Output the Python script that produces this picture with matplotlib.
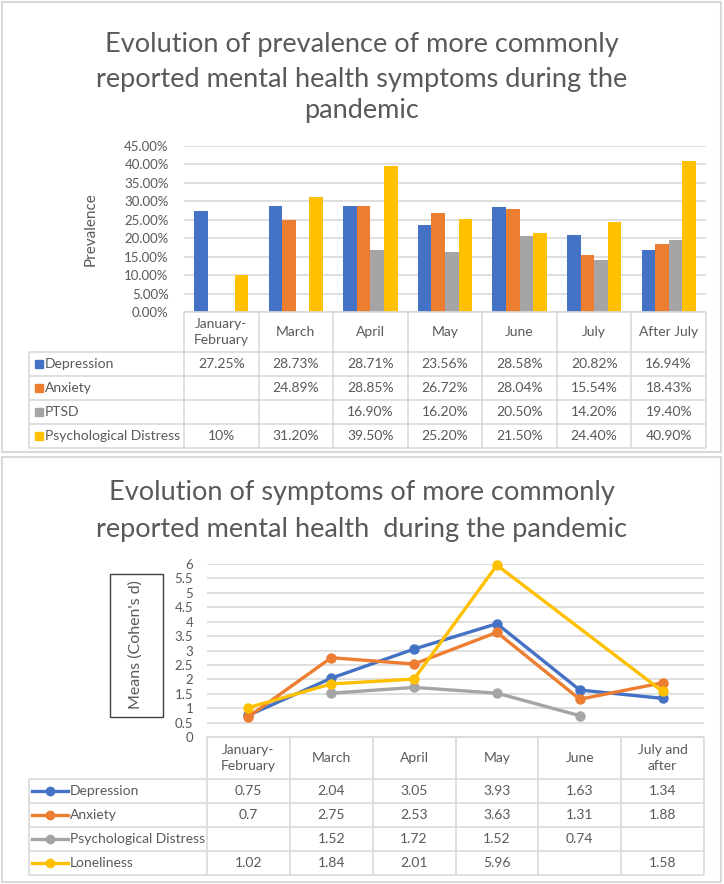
import numpy as np
import matplotlib
matplotlib.use("Agg")
import matplotlib.pyplot as plt
from matplotlib.patches import Rectangle

plt.rcParams['font.family'] = ['Lato', 'DejaVu Sans']

# ---- data: prevalence (bar chart) ----
bar_months = ["January-\nFebruary", "March", "April", "May", "June", "July", "After July"]
bar_series = ["Depression", "Anxiety", "PTSD", "Psychological Distress"]
depression_pct = [27.25, 28.73, 28.71, 23.56, 28.58, 20.82, 16.94]
anxiety_pct = [np.nan, 24.89, 28.85, 26.72, 28.04, 15.54, 18.43]
ptsd_pct = [np.nan, np.nan, 16.90, 16.20, 20.50, 14.20, 19.40]
distress_pct = [10, 31.20, 39.50, 25.20, 21.50, 24.40, 40.90]

# ---- data: means / Cohen's d (line chart) ----
line_months = ["January-\nFebruary", "March", "April", "May", "June", "July and\nafter"]
line_series = ["Depression", "Anxiety", "Psychological Distress", "Loneliness"]
depression_d = [0.75, 2.04, 3.05, 3.93, 1.63, 1.34]
anxiety_d = [0.7, 2.75, 2.53, 3.63, 1.31, 1.88]
distress_d = [np.nan, 1.52, 1.72, 1.52, 0.74, np.nan]
loneliness_d = [1.02, 1.84, 2.01, 5.96, np.nan, 1.58]

colors = ["#4472C4", "#ED7D31", "#A5A5A5", "#FFC000"]
text_c = "#595959"
grid_c = "#D9D9D9"

W, H = 724, 884
fig = plt.figure(figsize=(W / 100, H / 100), dpi=100)


def px_axes(x0, y0, x1, y1, **kw):
    return fig.add_axes([x0 / W, 1 - y1 / H, (x1 - x0) / W, (y1 - y0) / H], **kw)


def fig_text(x, y, s, **kw):
    return fig.text(x / W, 1 - y / H, s, **kw)


def draw_table(tax, months, names, rows, fmt, key, label_px, unit_px, header_h):
    n = len(months)
    nr = len(names)
    left = -0.5 - label_px / unit_px
    tax.set_ylim(nr, -header_h)
    tax.axis("off")
    kw = dict(color=grid_c, lw=1.2, clip_on=False, solid_capstyle="butt")
    tax.plot([-0.5, n - 0.5], [-header_h, -header_h], **kw)
    for i in range(nr + 1):
        tax.plot([left, n - 0.5], [i, i], **kw)
    for j in range(n + 1):
        tax.plot([j - 0.5, j - 0.5], [-header_h, nr], **kw)
    tax.plot([left, left], [0, nr], **kw)
    for j, m in enumerate(months):
        tax.text(j, -header_h / 2, m, ha="center", va="center", fontsize=10,
                 color=text_c, linespacing=1.35)
    for i, (name, vals, c) in enumerate(zip(names, rows, colors)):
        y = i + 0.5
        if key == "square":
            tax.plot(left + 9.5 / unit_px, y, marker="s", ms=5.2, color=c, clip_on=False)
            tx = left + 16 / unit_px
        else:
            tax.plot([left + 3 / unit_px, left + 39 / unit_px], [y, y], color=c,
                     lw=2.4, clip_on=False)
            tax.plot(left + 21 / unit_px, y, marker="o", ms=6, color=c, clip_on=False)
            tx = left + 41 / unit_px
        tax.text(tx, y, name, ha="left", va="center", fontsize=10, color=text_c)
        for j, v in enumerate(vals):
            if not np.isnan(v):
                tax.text(j, y, fmt(v), ha="center", va="center", fontsize=10, color=text_c)


# panel borders
border = px_axes(0, 0, W, H)
border.set_xlim(0, W)
border.set_ylim(H, 0)
border.axis("off")
border.add_patch(Rectangle((2, 2), 719, 450, fill=False, ec=grid_c, lw=1.5))
border.add_patch(Rectangle((2, 457), 719, 425, fill=False, ec=grid_c, lw=1.5))

# ---------------- panel 1: bar chart ----------------
title1 = ["Evolution of prevalence of more commonly",
          "reported mental health symptoms during the",
          "pandemic"]
for line, yb in zip(title1, [52, 87, 118]):
    fig_text(362, yb, line, ha="center", va="baseline", fontsize=19.5,
             color=text_c)

ax1 = px_axes(184, 146, 706, 312)
x = np.arange(len(bar_months))
bw = 1 / 5.5
for k, (vals, c) in enumerate(zip([depression_pct, anxiety_pct, ptsd_pct, distress_pct], colors)):
    ax1.bar(x + (k - 1.5) * bw, vals, bw, color=c, zorder=3)
ax1.set_xlim(-0.5, len(bar_months) - 0.5)
ax1.set_ylim(0, 45)
ax1.set_yticks(np.arange(0, 46, 5))
ax1.set_yticklabels([f"{v:.2f}%" for v in np.arange(0, 46, 5)])
ax1.set_xticks([])
ax1.yaxis.grid(True, color=grid_c, lw=1.2)
for s in ax1.spines.values():
    s.set_visible(False)
ax1.tick_params(axis="y", length=0, pad=11, labelsize=9.5, labelcolor=text_c)
fig_text(91, 229, "Prevalence", rotation=90, ha="center", va="center",
         fontsize=11, color=text_c)

tax1 = px_axes(184, 312, 706, 448, sharex=ax1)
draw_table(tax1, bar_months, bar_series,
           [depression_pct, anxiety_pct, ptsd_pct, distress_pct],
           lambda v: f"{v:.0f}%" if float(v).is_integer() else f"{v:.2f}%",
           "square", 155, 522 / 7, 40 / 24)

# ---------------- panel 2: line chart ----------------
title2 = ["Evolution of symptoms of more commonly",
          "reported mental health  during the pandemic"]
for line, yb in zip(title2, [500, 537]):
    fig_text(362, yb, line, ha="center", va="baseline", fontsize=19.5,
             color=text_c)

ax2 = px_axes(207, 564, 704, 737)
x2 = np.arange(len(line_months))
for vals, c in zip([depression_d, anxiety_d, distress_d, loneliness_d], colors):
    v = np.array(vals, dtype=float)
    ok = ~np.isnan(v)
    ax2.plot(x2[ok], v[ok], color=c, lw=2.4, marker="o", ms=6.5, zorder=3,
             clip_on=False)
ax2.set_xlim(-0.5, len(line_months) - 0.5)
ax2.set_ylim(0, 6)
ax2.set_yticks(np.arange(0, 6.01, 0.5))
ax2.set_yticklabels([f"{v:g}" for v in np.arange(0, 6.01, 0.5)])
ax2.set_xticks([])
ax2.yaxis.grid(True, color=grid_c, lw=1.2)
for s in ax2.spines.values():
    s.set_visible(False)
ax2.tick_params(axis="y", length=0, pad=10, labelsize=9.5, labelcolor=text_c)

border.add_patch(Rectangle((110, 574), 53, 143, fill=False, ec="#404040", lw=1))
fig_text(136, 645, "Means (Cohen's d)", rotation=90, ha="center", va="center",
         fontsize=11.5, color=text_c)

tax2 = px_axes(207, 737, 704, 875, sharex=ax2)
draw_table(tax2, line_months, line_series,
           [depression_d, anxiety_d, distress_d, loneliness_d],
           lambda v: f"{v:g}", "line", 178, 497 / 6, 42 / 24)

fig.savefig("out.png", dpi=100)
